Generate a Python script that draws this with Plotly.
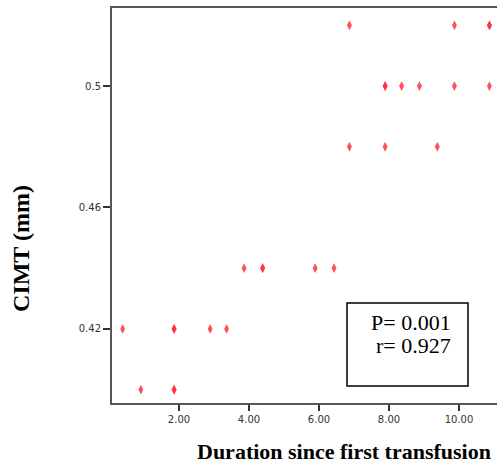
import plotly.graph_objects as go

# Data
duration = [6.87, 9.87, 10.87, 10.87,
            7.89, 7.89, 8.36, 8.87, 9.87, 10.87,
            6.87, 7.89, 9.38,
            3.86, 4.39, 4.39, 5.89, 6.43,
            0.39, 1.86, 1.86, 2.89, 3.36,
            0.91, 1.86, 1.86]
cimt = [0.52, 0.52, 0.52, 0.52,
        0.50, 0.50, 0.50, 0.50, 0.50, 0.50,
        0.48, 0.48, 0.48,
        0.44, 0.44, 0.44, 0.44, 0.44,
        0.42, 0.42, 0.42, 0.42, 0.42,
        0.40, 0.40, 0.40]

x_ticks = [2, 4, 6, 8, 10]
x_tick_labels = ["2.00", "4.00", "6.00", "8.00", "10.00"]
y_ticks = [0.42, 0.46, 0.50]
y_tick_labels = ["0.42", "0.46", "0.5"]

stats_lines = ["P= 0.001", "r= 0.927"]

fig = go.Figure()
fig.add_trace(go.Scatter(
    x=duration, y=cimt, mode="markers",
    marker=dict(symbol="diamond-tall", size=7, color="#ff3040", opacity=0.85,
                line=dict(width=0)),
    showlegend=False, cliponaxis=False,
))

axis_font = dict(family="DejaVu Sans, Verdana, sans-serif", size=10, color="#333")

fig.update_layout(
    width=497, height=466,
    margin=dict(l=112, r=0, t=8, b=63, autoexpand=False),
    paper_bgcolor="white", plot_bgcolor="white",
    xaxis=dict(range=[0.086, 11.086], tickvals=x_ticks, ticktext=x_tick_labels,
               showgrid=False, zeroline=False, showline=True, linecolor="#555",
               linewidth=2, mirror=True, ticks="outside", ticklen=6, tickwidth=2,
               tickcolor="#333", tickfont=axis_font, automargin=False),
    yaxis=dict(range=[0.3956, 0.5257], tickvals=y_ticks, ticktext=y_tick_labels,
               showgrid=False, zeroline=False, showline=True, linecolor="#555",
               linewidth=2, mirror=False, ticks="outside", ticklen=7, tickwidth=2,
               tickcolor="#333", tickfont=axis_font, automargin=False),
)

serif = "Liberation Serif, Times New Roman, serif"

fig.add_annotation(text="<b>Duration since first transfusion</b>", xref="paper", yref="paper",
                   x=1.0, y=0, xanchor="right", yanchor="bottom",
                   yshift=-62, xshift=-5, showarrow=False, borderpad=0,
                   font=dict(family=serif, size=22, color="black"))
fig.add_annotation(text="<b>CIMT (mm)</b>", xref="paper", yref="paper",
                   x=0, y=0.39, xanchor="center", yanchor="middle", xshift=-91,
                   textangle=-90, showarrow=False,
                   font=dict(family=serif, size=24, color="black"))

# stats box
fig.add_shape(type="rect", xref="paper", yref="paper",
              x0=(347 - 112) / 385, x1=(468 - 112) / 385,
              y0=(403 - 386) / 395, y1=(403 - 303) / 395,
              line=dict(color="black", width=1.5), fillcolor="white", layer="below")
for i, line in enumerate(stats_lines):
    fig.add_annotation(text=line, xref="paper", yref="paper",
                       x=(453 - 112) / 385, y=(403 - (322 + 23 * i)) / 395,
                       xanchor="right", yanchor="middle", align="right", showarrow=False,
                       font=dict(family=serif, size=22, color="black"))

fig.write_html("out.html", config={"displayModeBar": False},
               post_script="document.body.style.margin='0';document.body.style.overflow='hidden';")
